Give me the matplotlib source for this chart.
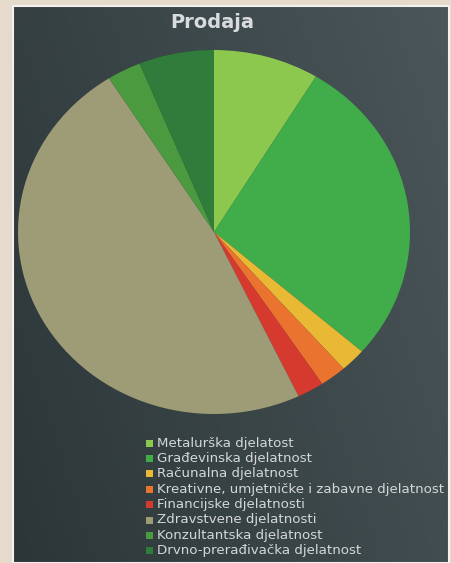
import numpy as np
import matplotlib
matplotlib.use('Agg')
import matplotlib.pyplot as plt
from matplotlib.patches import Rectangle

# shares (percent)
labels = ['Metalurška djelatost', 'Građevinska djelatnost', 'Računalna djelatnost',
          'Kreativne, umjetničke i zabavne djelatnost', 'Financijske djelatnosti',
          'Zdravstvene djelatnosti', 'Konzultantska djelatnost', 'Drvno-prerađivačka djelatnost']
shares = [8.7, 27.7, 2.1, 2.2, 2.2, 48.1, 2.8, 6.2]
colors = ['#8cc84e', '#40ad4a', '#e9b935', '#ea7330', '#d63a2f', '#9e9c76', '#4c9a3f', '#2f7c3b']

W, H = 452, 563
fig = plt.figure(figsize=(W / 100, H / 100), dpi=100)
fig.patch.set_facecolor('#e6dacd')

# dark panel with thin white frame
bg = fig.add_axes([14 / W, 0, (448 - 14) / W, 1 - 7 / H])
gx = np.linspace(0, 1, 200)
gy = np.linspace(0, 1, 200)
grad = 0.6 * gx[None, :] + 0.25 * gy[:, None]
bg.imshow(grad, cmap=matplotlib.colors.LinearSegmentedColormap.from_list(
    'slate', ['#2c3639', '#4a5659']), aspect='auto', extent=(0, 1, 0, 1), origin='lower')
bg.set_xlim(0, 1)
bg.set_ylim(0, 1)
bg.axis('off')
fig.patches.append(Rectangle((13 / W, 0), (449 - 13) / W, 1 - 6 / H, transform=fig.transFigure,
                             fill=False, edgecolor='#f4f1ec', lw=1.5))

fig.text(212 / W, 1 - 22 / H, 'Prodaja', ha='center', va='center', fontsize=14,
         fontweight='bold', color='#d8dcdc')

ax = fig.add_axes([18 / W, 1 - 414 / H, 392 / W, 364 / H])
wedges, _ = ax.pie(shares, colors=colors, startangle=90, counterclock=False,
                   wedgeprops=dict(linewidth=0))
ax.set_aspect('auto')
ax.set_xlim(-1, 1)
ax.set_ylim(-1, 1)
ax.axis('off')

# legend drawn by hand so the row spacing matches
for i, (lab, w) in enumerate(zip(labels, wedges)):
    yc = 443 + i * 15.4
    fig.patches.append(Rectangle((146 / W, 1 - (yc + 3.5) / H), 7 / W, 7 / H,
                                 transform=fig.transFigure, facecolor=w.get_facecolor(),
                                 edgecolor='none'))
    fig.text(157 / W, 1 - yc / H, lab, ha='left', va='center', fontsize=9.6,
             color='#d3d7d7')

fig.savefig('out.png', dpi=100, facecolor=fig.get_facecolor())
